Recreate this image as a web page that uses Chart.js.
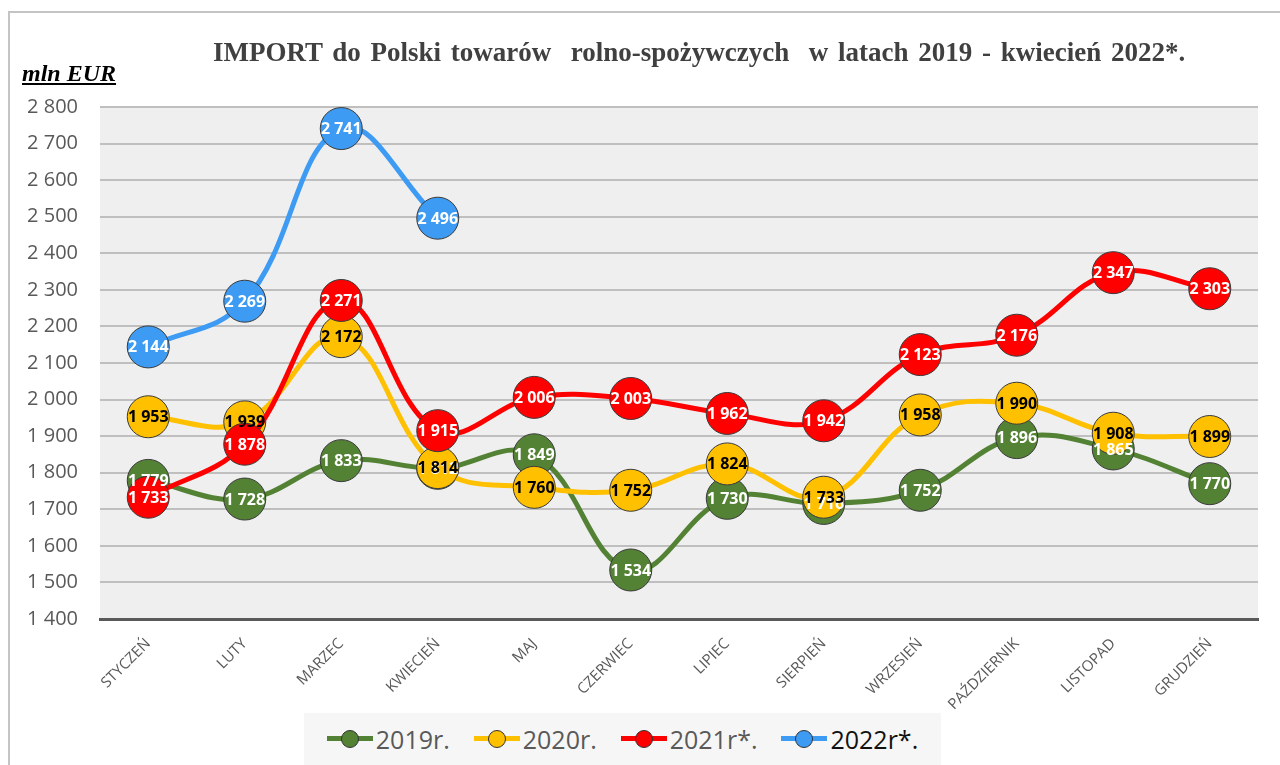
<!DOCTYPE html>
<html lang="pl">
<head>
<meta charset="utf-8">
<script src="https://cdn.jsdelivr.net/npm/chart.js@4.4.1/dist/chart.umd.min.js"></script>
<style>
body { margin: 0; background: #fff; }
#wrap { position: relative; width: 1280px; height: 765px; overflow: hidden; background: #fff; }
#frame { position: absolute; left: 8px; top: 11px; width: 1400px; height: 900px; border-left: 2px solid #c4c4c4; border-top: 2px solid #c4c4c4; }
#title { position: absolute; left: 213px; top: 37px; font: bold 27px "Liberation Serif", serif; color: #404040; white-space: pre; word-spacing: 3px; }
#unit { position: absolute; left: 22px; top: 60px; font: italic bold 24px "Liberation Serif", serif; color: #000; text-decoration: underline; }
#chartBox { position: absolute; left: 0; top: 0; width: 1280px; height: 765px; }
#legend { position: absolute; left: 304px; top: 713px; width: 637px; height: 52px; background: #f6f6f6; display: flex; align-items: center; justify-content: center; gap: 24px; font: 25px "Open Sans", sans-serif; color: #595959; }
.item { display: flex; align-items: center; }
.mark { position: relative; width: 46px; height: 18px; margin-right: 3px; }
.mark .ln { position: absolute; left: 0; right: 0; top: 6px; height: 5px; }
.mark .pt { position: absolute; left: 14px; top: 0; width: 18px; height: 18px; border-radius: 50%; box-sizing: border-box; border: 1px solid #333; }
</style>
</head>
<body>
<div id="wrap">
  <div id="frame"></div>
  <div id="chartBox"><canvas id="lineChart" width="1280" height="765"></canvas></div>
  <div id="title">IMPORT do Polski towarów  rolno-spożywczych  w latach 2019 - kwiecień 2022*.</div>
  <div id="unit">mln EUR</div>
  <div id="legend"></div>
</div>
<script>
// dane (mln EUR)
var months = ['STYCZEŃ', 'LUTY', 'MARZEC', 'KWIECIEŃ', 'MAJ', 'CZERWIEC', 'LIPIEC', 'SIERPIEŃ', 'WRZESIEŃ', 'PAŹDZIERNIK', 'LISTOPAD', 'GRUDZIEŃ'];
var import2019 = [1779, 1728, 1833, 1812, 1849, 1534, 1730, 1716, 1752, 1896, 1865, 1770];
var import2020 = [1953, 1939, 2172, 1814, 1760, 1752, 1824, 1733, 1958, 1990, 1908, 1899];
var import2021 = [1733, 1878, 2271, 1915, 2006, 2003, 1962, 1942, 2123, 2176, 2347, 2303];
var import2022 = [2144, 2269, 2741, 2496, null, null, null, null, null, null, null, null];
var seriesNames = ['2019r.', '2020r.', '2021r*.', '2022r*.'];
var seriesColors = ['#548235', '#FFC000', '#FF0000', '#3D9BF3'];
var labelColors = ['#ffffff', '#000000', '#ffffff', '#ffffff'];
var yMin = 1400, yMax = 2800, yStep = 100;

function fmt(v) {
    return String(v).replace(/\B(?=(\d{3})+(?!\d))/g, ' ');
}

// szare tło obszaru wykresu
var plotBackground = {
    id: 'plotBackground',
    beforeDraw: function(chart) {
        var a = chart.chartArea, ctx = chart.ctx;
        ctx.save();
        ctx.fillStyle = '#efefef';
        ctx.fillRect(a.left, a.top, a.right - a.left, a.bottom - a.top);
        ctx.restore();
    }
};

// etykiety wartości wewnątrz znaczników
var valueLabels = {
    id: 'valueLabels',
    afterDatasetsDraw: function(chart) {
        var ctx = chart.ctx;
        ctx.save();
        ctx.font = 'bold 16px "Open Sans", sans-serif';
        ctx.textAlign = 'center';
        ctx.textBaseline = 'middle';
        chart.data.datasets.forEach(function(ds, i) {
            var meta = chart.getDatasetMeta(i);
            ctx.fillStyle = labelColors[i];
            meta.data.forEach(function(pt, j) {
                if (ds.data[j] == null) return;
                ctx.fillText(fmt(ds.data[j]), pt.x, pt.y + 1);
            });
        });
        ctx.restore();
    }
};

var allSeries = [import2019, import2020, import2021, import2022];
var datasets = allSeries.map(function(values, i) {
    return {
        label: seriesNames[i],
        data: values,
        borderColor: seriesColors[i],
        backgroundColor: seriesColors[i],
        pointBackgroundColor: seriesColors[i],
        pointBorderColor: '#3a3a3a',
        pointBorderWidth: 1,
        pointRadius: 21,
        borderWidth: 5,
        tension: 0.4,
        clip: false,
        order: 4 - i
    };
});

var ctx1 = document.getElementById('lineChart').getContext('2d');
window.myChart1 = new Chart(ctx1, {
    type: 'line',
    data: {
        labels: months,
        datasets: datasets
    },
    options: {
        responsive: false,
        animation: false,
        events: [],
        layout: {
            padding: { left: 10, right: 13, top: 107, bottom: 0 }
        },
        plugins: {
            legend: { display: false },
            tooltip: { enabled: false }
        },
        scales: {
            x: {
                offset: true,
                grid: { display: false },
                border: { display: true, color: '#595959', width: 3 },
                ticks: {
                    color: '#595959',
                    font: { family: '"Open Sans", sans-serif', size: 15 },
                    maxRotation: 45,
                    minRotation: 45,
                    padding: 8
                },
                afterFit: function(scale) { scale.height = 146; }
            },
            y: {
                min: yMin,
                max: yMax,
                grid: { color: '#bfbfbf', lineWidth: 2, drawTicks: false },
                border: { display: false },
                ticks: {
                    stepSize: yStep,
                    color: '#595959',
                    padding: 22,
                    font: { family: '"Open Sans", sans-serif', size: 20 },
                    callback: function(v) { return fmt(v); }
                },
                afterFit: function(scale) { scale.width = 90; }
            }
        }
    },
    plugins: [plotBackground, valueLabels]
});

// legenda pod wykresem
var legendBox = document.getElementById('legend');
seriesNames.forEach(function(name, i) {
    var item = document.createElement('div');
    item.className = 'item';
    item.innerHTML = '<span class="mark"><span class="ln" style="background:' + seriesColors[i] + '"></span>' +
        '<span class="pt" style="background:' + seriesColors[i] + '"></span></span>' +
        '<span' + (i == 3 ? ' style="color:#111"' : '') + '>' + name + '</span>';
    legendBox.appendChild(item);
});
</script>
</body>
</html>
